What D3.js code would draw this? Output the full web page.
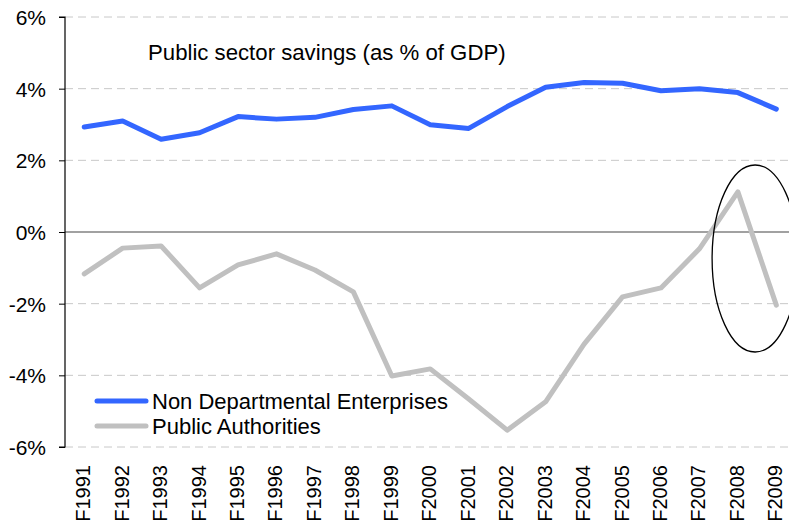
<!DOCTYPE html>
<html>
<head>
<meta charset="utf-8">
<script src="https://cdn.jsdelivr.net/npm/d3@7"></script>
<style>
  html, body { margin: 0; padding: 0; background: #fff; }
  svg { display: block; font-family: "Liberation Sans", Arial, sans-serif; }
</style>
</head>
<body>
<svg id="chart" width="789" height="525"></svg>
<script>
// Fiscal years on the x axis
const years = ["F1991","F1992","F1993","F1994","F1995","F1996","F1997","F1998","F1999","F2000",
               "F2001","F2002","F2003","F2004","F2005","F2006","F2007","F2008","F2009"];

// Savings as % of GDP
const nonDepartmental = [2.93, 3.10, 2.59, 2.77, 3.22, 3.15, 3.20, 3.42, 3.52, 2.99,
                         2.89, 3.50, 4.04, 4.17, 4.15, 3.94, 4.00, 3.89, 3.43];
const publicAuthorities = [-1.17, -0.45, -0.39, -1.56, -0.92, -0.61, -1.06, -1.67, -4.02, -3.82,
                           -4.66, -5.53, -4.74, -3.13, -1.81, -1.56, -0.47, 1.12, -2.04];

const yTicks = [-6, -4, -2, 0, 2, 4, 6];
const seriesNames = ["Non Departmental Enterprises", "Public Authorities"];
const seriesColors = ["#3366ff", "#c0c0c0"];
const title = "Public sector savings (as % of GDP)";

const svg = d3.select("#chart");
const plotLeft = 65, plotTop = 17, plotBottom = 447;
const step = 38.45;
const font = "'Liberation Sans', Arial, sans-serif";

const x = d3.scaleBand().domain(years).range([plotLeft, plotLeft + step * years.length]);
const y = d3.scaleLinear().domain([-6, 6]).range([plotBottom, plotTop]);
const cx = d => x(d) + x.bandwidth() / 2;

// Horizontal gridlines (dashed), zero line solid
svg.append("g").selectAll("line")
  .data(yTicks.filter(t => t !== 0))
  .join("line")
  .attr("x1", plotLeft).attr("x2", 789)
  .attr("y1", d => y(d)).attr("y2", d => y(d))
  .attr("stroke", "#c8c8c8").attr("stroke-width", 1)
  .attr("stroke-dasharray", "8,5");

svg.append("line")
  .attr("x1", plotLeft).attr("x2", 789)
  .attr("y1", y(0)).attr("y2", y(0))
  .attr("stroke", "#444").attr("stroke-width", 1.1);

// Y axis
const yAxis = d3.axisLeft(y).tickValues(yTicks).tickSize(6).tickPadding(13)
  .tickFormat(d => d + "%");
const gy = svg.append("g").attr("transform", `translate(${plotLeft},0)`).call(yAxis);
gy.select(".domain").attr("stroke", "#000").attr("stroke-width", 1.2).attr("d", `M-6,${y(6)}H0V${y(-6)}H-6`);
gy.selectAll(".tick line").attr("stroke", "#000");
gy.selectAll(".tick text").attr("font-size", 21).attr("fill", "#000")
  .attr("font-family", font).attr("dy", "0.36em");

// X axis labels (rotated)
const xAxis = d3.axisBottom(x).tickSize(0).tickPadding(0);
const gx = svg.append("g").attr("transform", `translate(0,${plotBottom})`).call(xAxis);
gx.select(".domain").remove();
gx.selectAll(".tick text")
  .attr("font-size", 20).attr("fill", "#000")
  .attr("font-family", font)
  .attr("text-anchor", "end")
  .attr("transform", "translate(-1,18) rotate(-90)")
  .attr("dy", "0.35em").attr("y", 0).attr("x", 0);

// Series lines
const line = d3.line().x((d, i) => cx(years[i])).y(d => y(d));
[publicAuthorities, nonDepartmental].forEach((vals, k) => {
  svg.append("path")
    .datum(vals)
    .attr("fill", "none")
    .attr("stroke", k === 0 ? seriesColors[1] : seriesColors[0])
    .attr("stroke-width", 5)
    .attr("stroke-linejoin", "round")
    .attr("stroke-linecap", "round")
    .attr("d", line);
});

// Highlight ellipse around the final two years
const ex = (cx("F2008") + cx("F2009")) / 2 - 2;
svg.append("ellipse")
  .attr("cx", ex).attr("cy", 258.5)
  .attr("rx", 43).attr("ry", 93.5)
  .attr("fill", "none").attr("stroke", "#000").attr("stroke-width", 1.3);

// Title
svg.append("text")
  .attr("x", 148).attr("y", 60)
  .attr("font-size", 22.2).attr("fill", "#000")
  .attr("font-family", font)
  .text(title);

// Legend
const legend = svg.append("g").attr("transform", "translate(95,401)");
seriesNames.forEach((name, i) => {
  const g = legend.append("g").attr("transform", `translate(0,${i * 25})`);
  g.append("line").attr("x1", 2).attr("x2", 51).attr("y1", 0).attr("y2", 0)
    .attr("stroke", seriesColors[i]).attr("stroke-width", 5).attr("stroke-linecap", "round");
  g.append("text").attr("x", 57).attr("y", 8)
    .attr("font-size", 22).attr("fill", "#000")
    .attr("font-family", font).text(name);
});
</script>
</body>
</html>
